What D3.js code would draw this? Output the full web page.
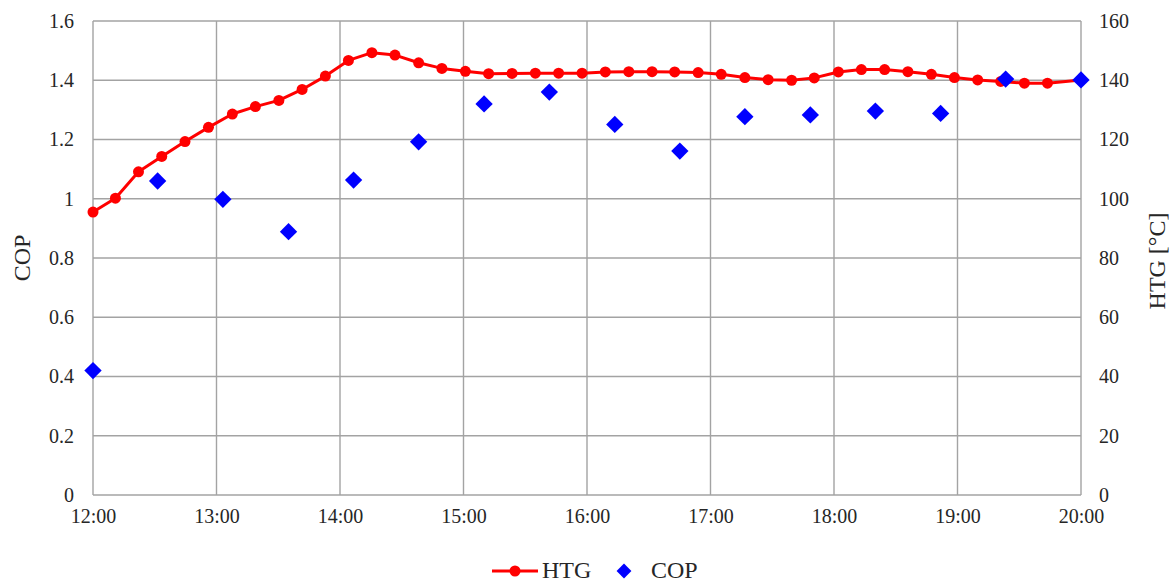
<!DOCTYPE html>
<html>
<head>
<meta charset="utf-8">
<script src="https://cdn.jsdelivr.net/npm/d3@7/dist/d3.min.js"></script>
<style>
  html, body { margin: 0; padding: 0; background: #ffffff; }
  svg { display: block; }
  svg text { font-family: "Liberation Serif", "Tinos", "Times New Roman", "DejaVu Serif", serif !important; }
</style>
</head>
<body>
<svg id="chart" width="1172" height="583"></svg>
<script>
// Time axis: minutes after 12:00, with hourly labels
const hourLabels = ["12:00", "13:00", "14:00", "15:00", "16:00", "17:00", "18:00", "19:00", "20:00"];
const copTicks = [0, 0.2, 0.4, 0.6, 0.8, 1, 1.2, 1.4, 1.6];
const htgTicks = [0, 20, 40, 60, 80, 100, 120, 140, 160];

// HTG temperature samples [°C]
const htgMinutes = [0, 10.9, 22.1, 33.4, 44.7, 56.1, 67.7, 78.9, 90.3, 101.6, 112.9, 124.1, 135.5,
  146.7, 158.2, 169.5, 180.9, 192.2, 203.6, 214.9, 226.2, 237.6, 248.9, 260.3, 271.6, 282.6,
  294.0, 305.2, 316.7, 328.0, 339.4, 350.4, 362.1, 373.3, 384.6, 395.9, 407.3, 418.5, 429.8,
  441.0, 452.5, 463.7, 480];
const htgValues = [95.5, 100.2, 109.1, 114.3, 119.3, 124.1, 128.6, 131.1, 133.2, 136.9, 141.4,
  146.7, 149.3, 148.5, 145.9, 144.0, 143.0, 142.2, 142.3, 142.4, 142.4, 142.4, 142.8, 142.9,
  142.9, 142.8, 142.6, 142.0, 140.9, 140.2, 140.0, 140.8, 142.8, 143.6, 143.6, 142.9, 142.0,
  140.9, 140.1, 139.6, 139.0, 139.0, 140.1];

// COP samples
const copMinutes = [0, 31.4, 63.1, 95.0, 126.6, 158.2, 190.0, 221.7, 253.5, 285.1, 316.7,
  348.5, 380.1, 411.8, 443.4, 480];
const copValues = [0.42, 1.06, 0.998, 0.889, 1.063, 1.192, 1.32, 1.36, 1.251, 1.161, 1.277,
  1.283, 1.296, 1.288, 1.404, 1.401];

const svg = d3.select("#chart");
const plotLeft = 93, plotRight = 1081, plotTop = 21, plotBottom = 495;
const gridColor = "#a3a3a3";
const textColor = "#262626";

const x = d3.scaleLinear().domain([0, 480]).range([plotLeft, plotRight]);
const yL = d3.scaleLinear().domain([0, 1.6]).range([plotBottom, plotTop]);
const yR = d3.scaleLinear().domain([0, 160]).range([plotBottom, plotTop]);

// Gridlines
const grid = svg.append("g");
grid.selectAll("line.h").data(copTicks).join("line").attr("class", "h")
  .attr("x1", plotLeft).attr("x2", plotRight)
  .attr("y1", d => yL(d)).attr("y2", d => yL(d))
  .attr("stroke", gridColor).attr("stroke-width", 1.4);
grid.selectAll("line.v").data(hourLabels).join("line").attr("class", "v")
  .attr("x1", (d, i) => x(i * 60)).attr("x2", (d, i) => x(i * 60))
  .attr("y1", plotTop).attr("y2", plotBottom)
  .attr("stroke", gridColor).attr("stroke-width", 1.4);

// Left axis (COP)
const axL = d3.axisLeft(yL).tickValues(copTicks).tickSize(0).tickPadding(19)
  .tickFormat(d => String(+d.toFixed(1)));
const gL = svg.append("g").attr("transform", `translate(${plotLeft},0)`).call(axL);
gL.select(".domain").remove();
gL.selectAll("text").attr("font-size", 20).attr("fill", textColor);

// Right axis (HTG)
const axR = d3.axisRight(yR).tickValues(htgTicks).tickSize(0).tickPadding(18);
const gR = svg.append("g").attr("transform", `translate(${plotRight},0)`).call(axR);
gR.select(".domain").remove();
gR.selectAll("text").attr("font-size", 20).attr("fill", textColor);

// Bottom axis (time)
const axB = d3.axisBottom(x).tickValues(d3.range(0, 481, 60)).tickSize(0).tickPadding(14)
  .tickFormat((d, i) => hourLabels[i]);
const gB = svg.append("g").attr("transform", `translate(0,${plotBottom})`).call(axB);
gB.select(".domain").remove();
gB.selectAll("text").attr("font-size", 20).attr("fill", textColor);

// Axis titles
svg.append("text")
  .attr("transform", `translate(30,${(plotTop + plotBottom) / 2}) rotate(-90)`)
  .attr("text-anchor", "middle").attr("font-size", 24).attr("fill", textColor)
  .text("COP");
svg.append("text")
  .attr("transform", `translate(1165,${(plotTop + plotBottom) / 2 + 3}) rotate(-90)`)
  .attr("text-anchor", "middle").attr("font-size", 24).attr("fill", textColor)
  .text("HTG [°C]");

// HTG line with circle markers
const htgData = htgMinutes.map((m, i) => ({ m, v: htgValues[i] }));
const line = d3.line().x(d => x(d.m)).y(d => yR(d.v));
svg.append("path").datum(htgData)
  .attr("d", line).attr("fill", "none")
  .attr("stroke", "#ff0000").attr("stroke-width", 3).attr("stroke-linejoin", "round");
svg.append("g").selectAll("circle").data(htgData).join("circle")
  .attr("cx", d => x(d.m)).attr("cy", d => yR(d.v)).attr("r", 5.5)
  .attr("fill", "#ff0000");

// COP diamonds
const copData = copMinutes.map((m, i) => ({ m, v: copValues[i] }));
const diamond = d3.symbol().type(d3.symbolSquare).size(150);
svg.append("g").selectAll("path").data(copData).join("path")
  .attr("d", diamond)
  .attr("transform", d => `translate(${x(d.m)},${yL(d.v)}) rotate(45)`)
  .attr("fill", "#0000ff");

// Legend
const lg = svg.append("g");
lg.append("line").attr("x1", 492).attr("x2", 538).attr("y1", 571).attr("y2", 571)
  .attr("stroke", "#ff0000").attr("stroke-width", 3);
lg.append("circle").attr("cx", 515).attr("cy", 571).attr("r", 5.5).attr("fill", "#ff0000");
lg.append("text").attr("x", 542).attr("y", 578).attr("font-size", 24).attr("fill", textColor).text("HTG");
lg.append("path").attr("d", d3.symbol().type(d3.symbolSquare).size(110))
  .attr("transform", "translate(624,571) rotate(45)").attr("fill", "#0000ff");
lg.append("text").attr("x", 651).attr("y", 578).attr("font-size", 24).attr("fill", textColor).text("COP");
</script>
</body>
</html>
